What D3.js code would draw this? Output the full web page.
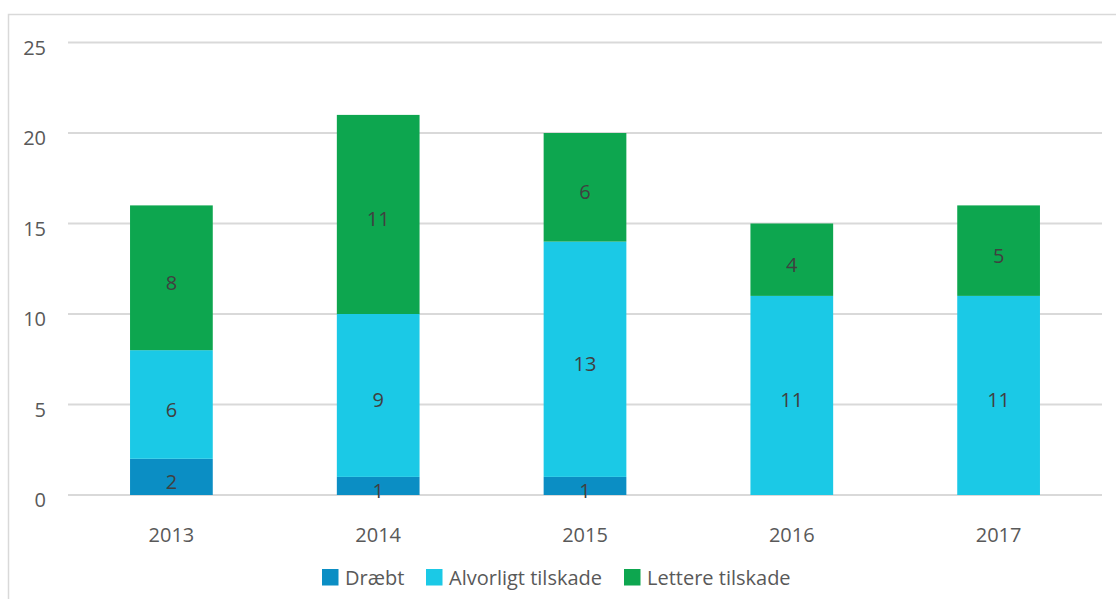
<!DOCTYPE html>
<html>
<head>
<meta charset="utf-8">
<script src="https://cdn.jsdelivr.net/npm/d3@7"></script>
<style>
  body { margin: 0; background: #fff; }
  text { font-family: "Open Sans", sans-serif; }
</style>
</head>
<body>
<div id="viz"></div>
<script>
const years = ['2013', '2014', '2015', '2016', '2017'];
const seriesNames = ['Dræbt', 'Alvorligt tilskade', 'Lettere tilskade'];
const draebt = [2, 1, 1, 0, 0];
const alvorligt = [6, 9, 13, 11, 11];
const lettere = [8, 11, 6, 4, 5];
const yTicks = [0, 5, 10, 15, 20, 25];

const colors = ['#0B8EC4', '#1BC9E6', '#0DA64F'];

const width = 1116;
const height = 599;
const plotLeft = 68, plotRight = 1102, plotTop = 42.5, plotBottom = 495;
const fontSize = 20;

let svg = d3.select('#viz')
            .append('svg')
            .attr('width', width)
            .attr('height', height);

// outer frame
svg.append('rect')
   .attr('x', 8.5).attr('y', 14.5)
   .attr('width', 1120).attr('height', 600)
   .attr('fill', 'none')
   .attr('stroke', '#d9d9d9')
   .attr('stroke-width', 1.5);

let xScale = d3.scaleBand().domain(years).range([plotLeft, plotRight])
               .paddingInner(0.6).paddingOuter(0.3);
let yScale = d3.scaleLinear().domain([0, 25]).range([plotBottom, plotTop]);

// gridlines
svg.append('g')
   .selectAll('line')
   .data(yTicks)
   .enter()
   .append('line')
   .attr('x1', plotLeft).attr('x2', plotRight)
   .attr('y1', d => yScale(d)).attr('y2', d => yScale(d))
   .attr('stroke', '#d9d9d9')
   .attr('stroke-width', 2);

// y labels
svg.append('g')
   .selectAll('text')
   .data(yTicks)
   .enter()
   .append('text')
   .attr('x', 46)
   .attr('y', d => yScale(d) + 12)
   .attr('text-anchor', 'end')
   .attr('fill', '#595959')
   .attr('font-size', fontSize)
   .text(d => d);

// x labels
svg.append('g')
   .selectAll('text')
   .data(years)
   .enter()
   .append('text')
   .attr('x', d => xScale(d) + xScale.bandwidth() / 2)
   .attr('y', 542)
   .attr('text-anchor', 'middle')
   .attr('fill', '#595959')
   .attr('font-size', fontSize)
   .text(d => d);

const table = years.map((y, i) => ({
    year: y,
    'Dræbt': draebt[i],
    'Alvorligt tilskade': alvorligt[i],
    'Lettere tilskade': lettere[i]
}));
const stacked = d3.stack().keys(seriesNames)(table);

stacked.forEach((layer, li) => {
    let g = svg.append('g');
    g.selectAll('rect')
     .data(layer.filter(d => d[1] - d[0] > 0))
     .enter()
     .append('rect')
     .attr('x', d => xScale(d.data.year))
     .attr('width', xScale.bandwidth())
     .attr('y', d => yScale(d[1]))
     .attr('height', d => yScale(d[0]) - yScale(d[1]))
     .attr('fill', colors[li]);
    g.selectAll('text')
     .data(layer.filter(d => d[1] - d[0] > 0))
     .enter()
     .append('text')
     .attr('x', d => xScale(d.data.year) + xScale.bandwidth() / 2)
     .attr('y', d => (yScale(d[0]) + yScale(d[1])) / 2 + 12)
     .attr('text-anchor', 'middle')
     .attr('fill', '#404040')
     .attr('font-size', fontSize)
     .text(d => d[1] - d[0]);
});

// legend
const legendX = [322, 426, 624];
let legend = svg.append('g');
seriesNames.forEach((name, i) => {
    legend.append('rect')
          .attr('x', legendX[i]).attr('y', 569)
          .attr('width', 16.5).attr('height', 16.5)
          .attr('fill', colors[i]);
    legend.append('text')
          .attr('x', legendX[i] + 23).attr('y', 585)
          .attr('fill', '#595959')
          .attr('font-size', fontSize)
          .text(name);
});
</script>
</body>
</html>
